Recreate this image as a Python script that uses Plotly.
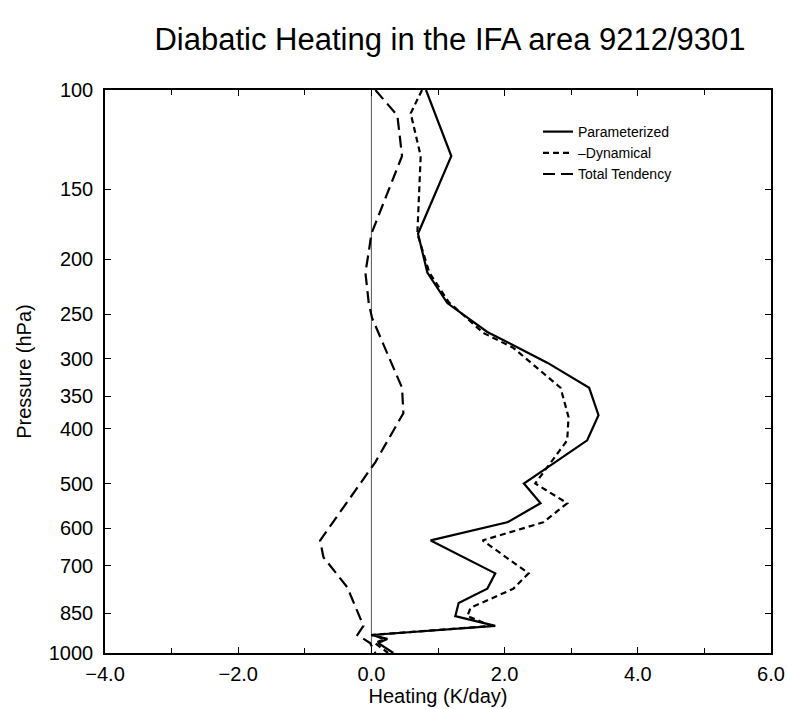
import plotly.graph_objects as go

# Parameterized heating
p_param = [100, 131, 180, 211, 239, 269, 305, 338, 378, 419, 474, 500, 542, 586, 631, 722, 769, 815, 860, 895, 929, 944, 960, 1000]
q_param = [0.82, 1.20, 0.70, 0.84, 1.14, 1.74, 2.64, 3.27, 3.41, 3.24, 2.58, 2.29, 2.54, 2.04, 0.89, 1.86, 1.74, 1.31, 1.26, 1.86, 0.00, 0.24, 0.10, 0.33]

# -Dynamical
p_dyn = [100, 110, 131, 180, 211, 238, 270, 287, 338, 381, 419, 468, 500, 542, 586, 631, 722, 769, 831, 860, 895, 929, 944, 960, 1000]
q_dyn = [0.76, 0.59, 0.74, 0.69, 0.87, 1.16, 1.68, 2.13, 2.84, 2.96, 2.94, 2.64, 2.46, 2.94, 2.58, 1.67, 2.36, 2.13, 1.49, 1.44, 1.80, 0.00, 0.20, 0.05, 0.25]

# Total tendency
p_tot = [100, 111, 131, 180, 194, 211, 239, 254, 338, 375, 458, 631, 676, 765, 895, 929, 960, 1000]
q_tot = [0.06, 0.39, 0.46, 0.00, -0.04, -0.09, -0.04, 0.01, 0.46, 0.48, 0.06, -0.77, -0.72, -0.36, -0.12, -0.21, -0.02, 0.06]

p_ticks = [100, 150, 200, 250, 300, 350, 400, 500, 600, 700, 850, 1000]
x_ticks = [-4, -2, 0, 2, 4, 6]
x_labels = ["\u22124.0", "\u22122.0", "0.0", "2.0", "4.0", "6.0"]

FONT = "Liberation Sans, Arial, Helvetica, sans-serif"

fig = go.Figure()
fig.add_trace(go.Scatter(x=q_param, y=p_param, mode="lines", name="Parameterized",
                         line=dict(color="black", width=2.2)))
fig.add_trace(go.Scatter(x=q_dyn, y=p_dyn, mode="lines", name="\u2013Dynamical",
                         line=dict(color="black", width=2.2, dash="6px,4px")))
fig.add_trace(go.Scatter(x=q_tot, y=p_tot, mode="lines", name="Total Tendency",
                         line=dict(color="black", width=2.2, dash="12px,6px")))

fig.add_shape(type="line", x0=0, x1=0, y0=0, y1=1, xref="x", yref="paper",
              line=dict(color="#555", width=1), layer="below")

fig.update_layout(
    width=787, height=709,
    margin=dict(l=105, r=16, t=90, b=56, autoexpand=False),
    paper_bgcolor="white", plot_bgcolor="white",
    font=dict(family=FONT, color="black"),
    title=dict(text="Diabatic Heating in the IFA area 9212/9301", x=450/787, xanchor="center",
               xref="container", y=1-39/709, yanchor="middle",
               font=dict(size=31, family=FONT, color="black")),
    showlegend=True,
    legend=dict(x=(538-105)/666, y=1-(116-90)/563, xanchor="left", yanchor="top",
                bgcolor="rgba(0,0,0,0)", borderwidth=0, font=dict(size=14, family=FONT),
                itemwidth=30, tracegroupgap=0),
    xaxis=dict(range=[-4, 6], tickvals=x_ticks, ticktext=x_labels, ticks="inside", ticklen=6,
               tickwidth=1, tickcolor="black", showgrid=False, zeroline=False, automargin=False,
               showline=True, linecolor="black", linewidth=1.5, mirror="allticks",
               tickfont=dict(size=20), ticklabelstandoff=2,
               minor=dict(dtick=1, ticks="inside", ticklen=5, tickcolor="black"),
               title=dict(text="Heating (K/day)", font=dict(size=20), standoff=5)),
    yaxis=dict(type="log", range=[3, 2], tickvals=p_ticks, ticktext=[str(v) for v in p_ticks],
               ticks="inside", ticklen=6, tickwidth=1, tickcolor="black", showgrid=False,
               zeroline=False, showline=True, linecolor="black", linewidth=1.5, mirror="allticks",
               tickfont=dict(size=20), ticklabelstandoff=6, automargin=False,
               title=dict(text="Pressure (hPa)", font=dict(size=20), standoff=12)),
)

fig.write_html("out.html")
